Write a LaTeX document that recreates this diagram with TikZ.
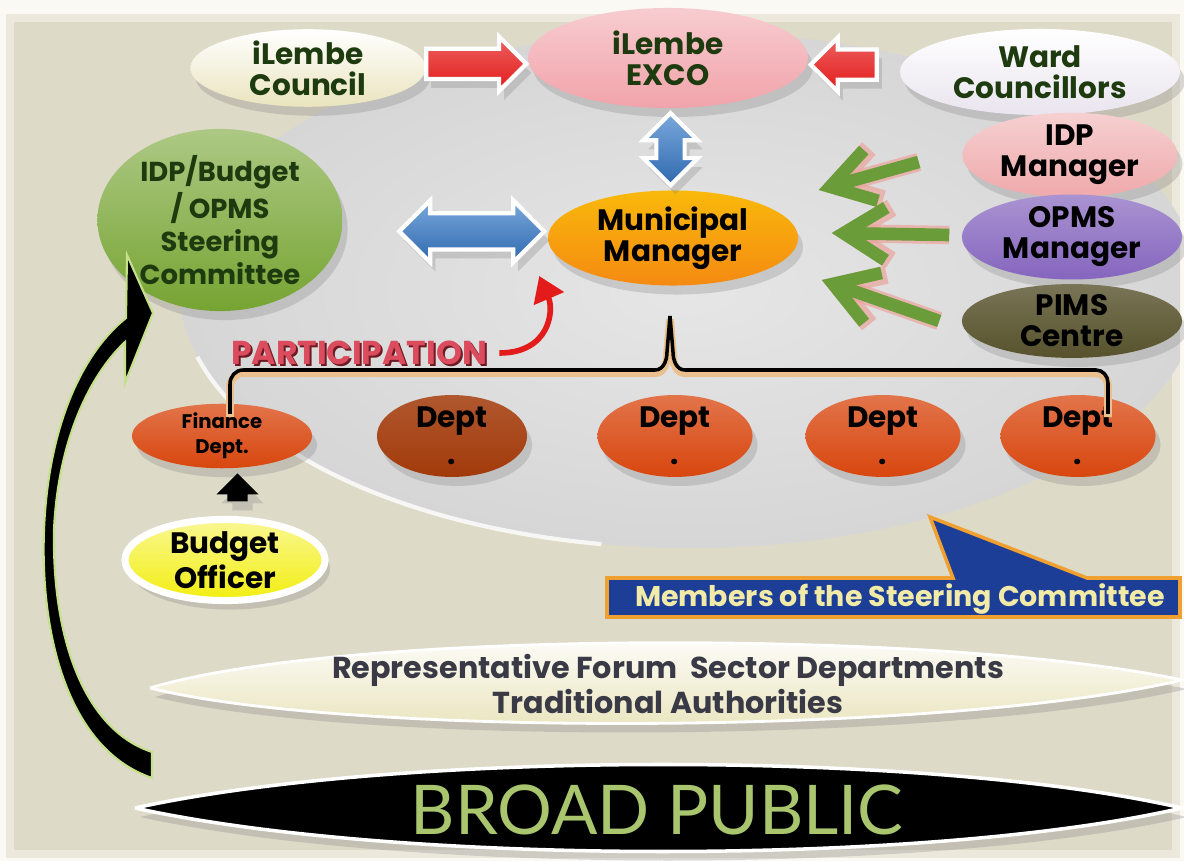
\documentclass[tikz,border=0pt]{standalone}
\usepackage{fontspec}
\setmainfont{Poppins}
\newfontfamily\pubfont{Lato}
\usetikzlibrary{positioning,calc,shapes.geometric,shapes.arrows,shadows,arrows.meta}

\definecolor{outerbg}{HTML}{FAF9F4}
\definecolor{panelbg}{HTML}{DEDAC8}
\definecolor{panelrim}{HTML}{ECE9DC}
\definecolor{mist}{HTML}{D6D6D6}
\definecolor{mistlight}{HTML}{E6E6E6}
\definecolor{leaf}{HTML}{1E3B10}
\definecolor{cream}{HTML}{EAE4BE}
\definecolor{exco}{HTML}{F1A3AA}
\definecolor{ward}{HTML}{E9E4EE}
\definecolor{idpm}{HTML}{EFA9AB}
\definecolor{opms}{HTML}{8565BE}
\definecolor{pims}{HTML}{57522C}
\definecolor{steer}{HTML}{76A432}
\definecolor{mm}{HTML}{F58A12}
\definecolor{fin}{HTML}{D8460E}
\definecolor{deptdark}{HTML}{A23A0A}
\definecolor{budget}{HTML}{F2EE10}
\definecolor{callout}{HTML}{1D3E96}
\definecolor{calloutrim}{HTML}{F0A030}
\definecolor{callouttext}{HTML}{F2EBA8}
\definecolor{forum}{HTML}{E8E2B8}
\definecolor{forumtext}{HTML}{3A3A46}
\definecolor{pubgreen}{HTML}{A9C56E}
\definecolor{redarrow}{HTML}{E41B1B}
\definecolor{bluearrow}{HTML}{2F69AE}
\definecolor{bluelight}{HTML}{7AA8DC}
\definecolor{arrowgreen}{HTML}{6A9C3A}
\definecolor{arrowglow}{HTML}{EBA39B}
\definecolor{partred}{HTML}{DB4C5E}
\definecolor{partdark}{HTML}{6E1A22}
\definecolor{rimtan}{HTML}{E9C08E}
\definecolor{sprout}{HTML}{C5E08A}

\tikzset{
	softshadow/.style={drop shadow={shadow xshift=0.5mm, shadow yshift=-0.9mm, opacity=0.28}},
	bubble/.style={ellipse, inner sep=0pt, align=center, text=leaf, font=\bfseries\fontsize{8.4}{8.8}\selectfont, softshadow},
	dept/.style={bubble, text=black, minimum width=1.5cm, minimum height=0.68cm, font=\bfseries\fontsize{8.4}{10.5}\selectfont},
	block/.style={single arrow, inner sep=0pt, draw=white, line width=1.2pt, single arrow head extend=0.12cm, softshadow},
	twoway/.style={double arrow, inner sep=0pt, draw=white, line width=1.2pt, double arrow head extend=0.13cm, softshadow},
	greenglow/.style={draw=arrowglow, line width=5.2pt, opacity=0.7, -{Straight Barb[length=12pt,width=15pt]}},
	greenarrow/.style={draw=arrowgreen, line width=3.6pt, -{Straight Barb[length=12pt,width=15pt]}},
	partarrow/.style={draw=redarrow, line width=1.6pt, -{Triangle[length=7pt,width=9pt]}},
	bracketrim/.style={draw=rimtan, line width=2.2pt, yshift=-0.9pt},
	bracket/.style={draw=black, line width=1pt}
}

\begin{document}
\begin{tikzpicture}[x=0.01cm, y=-0.01cm]
	\useasboundingbox (0,0) rectangle (1184,861);
	\fill[outerbg] (0,0) rectangle (1184,861);
	\fill[panelbg] (6,14) rectangle (1180,858);
	\draw[panelrim, line width=2.5pt] (10,18) rectangle (1176,854);
	\begin{scope}
		\clip (6,14) rectangle (1180,858);
		\shade[inner color=mistlight, outer color=mist] (690,290) ellipse [x radius=510, y radius=258];
		\draw[white, line width=1.2pt, opacity=0.8] (690,290) ++(165:510 and 258) arc[start angle=165, end angle=100, x radius=510, y radius=258];
	\end{scope}

	\node[bubble, minimum width=2.35cm, minimum height=0.75cm, top color=white, bottom color=cream] (council) at (308,68) {iLembe\\Council};
	\node[bubble, minimum width=2.8cm, minimum height=1cm, top color=exco!55!white, bottom color=exco] (exco) at (668,58) {iLembe\\EXCO};
	\node[bubble, minimum width=2.8cm, minimum height=0.86cm, top color=white, bottom color=ward] (ward) at (1040,72) {Ward\\Councillors};
	\node[bubble, text=black, minimum width=2.15cm, minimum height=0.72cm, top color=idpm!55!white, bottom color=idpm] (idpm) at (1070,155) {IDP\\Manager};
	\node[bubble, text=black, minimum width=2.2cm, minimum height=0.72cm, top color=opms!70!white, bottom color=opms] (opms) at (1072,237) {OPMS\\Manager};
	\node[bubble, text=black, minimum width=2.2cm, minimum height=0.72cm, top color=pims!80!white, bottom color=pims] (pims) at (1072,321) {PIMS\\Centre};
	\node[bubble, minimum width=2.45cm, minimum height=1.45cm, top color=steer!60!white, bottom color=steer, font=\bfseries\fontsize{7.8}{9.3}\selectfont] (steer) at (220,220) {IDP/Budget\\/ OPMS\\Steering\\Committee};
	\node[bubble, text=black, minimum width=2.5cm, minimum height=0.95cm, top color=mm!60!yellow, bottom color=mm] (mm) at (673,238) {Municipal\\Manager};

	\node[dept, minimum width=1.8cm, minimum height=0.64cm, top color=fin!75!white, bottom color=fin, font=\bfseries\fontsize{5.6}{7}\selectfont] (fin) at (222,436) {Finance\\Dept.};
	\node[dept, top color=deptdark!85!white, bottom color=deptdark] (d1) at (452,436) {Dept\\.};
	\foreach \n/\x in {d2/675,d3/883,d4/1078}
		\node[dept, minimum width=1.55cm, top color=fin!75!white, bottom color=fin] (\n) at (\x,436) {Dept\\.};
	\node[bubble, text=black, minimum width=2.0cm, minimum height=0.8cm, draw=white, line width=2pt, top color=budget!45!white, bottom color=budget] (bud) at (225,560) {Budget\\Officer};

	\node[block, top color=redarrow!70!white, bottom color=redarrow, minimum height=1cm] (rarr) at ($(council.east)!0.42!(exco.west)$) {\rule{0pt}{0.26cm}};
	\node[block, top color=redarrow!70!white, bottom color=redarrow, minimum height=0.66cm, rotate=180] (larr) at ($(exco.east)!0.47!(ward.west)$) {\rule{0pt}{0.26cm}};
	\node[twoway, minimum height=0.72cm, rotate=90, top color=bluelight, bottom color=bluearrow] (varr) at ($(exco.south)!0.5!(mm.north)$) {\rule{0pt}{0.24cm}};
	\node[twoway, minimum height=1.45cm, top color=bluelight, bottom color=bluearrow] (harr) at ($(steer.east)!0.63!(mm.west)$) {\rule{0pt}{0.32cm}};
	\node[block, draw=none, fill=black, minimum height=0.28cm, rotate=90, single arrow head extend=0.11cm] (uarr) at ($(bud.north)!0.5!(fin.south)+(14,0)$) {\rule{0pt}{0.16cm}};

	\coordinate (s1) at ($(idpm.west)+(-43,7)$);
	\coordinate (e1) at ($(mm.east)+(20,-48)$);
	\coordinate (s2) at ($(opms.west)+(-12,-2)$);
	\coordinate (e2) at ($(mm.east)+(33,-5)$);
	\coordinate (s3) at ($(pims.west)+(-22,0)$);
	\coordinate (e3) at ($(mm.east)+(23,42)$);
	\foreach \i in {1,2,3}
		\draw[greenglow] (s\i) -- (e\i);
	\foreach \i in {1,2,3}
		\draw[greenarrow] (s\i) -- (e\i);

	\foreach \s in {bracketrim,bracket}
		\draw[\s] (230,414) -- (230,384) to[out=90,in=180] (243,370) -- (655,370) to[out=0,in=-90] (667,352) -- (670,316) -- (673,352) to[out=-90,in=180] (685,370) -- (1096,370) to[out=0,in=90] (1108,383) -- (1108,414);

	\node[font=\bfseries\fontsize{9.4}{9.4}\selectfont, text=partdark] (partshade) at (361,355) {PARTICIPATION};
	\node[font=\bfseries\fontsize{9.4}{9.4}\selectfont, text=partred] (part) at (359,353) {PARTICIPATION};
	\draw[partarrow] (part.east) .. controls +(50,0) and +(15,35) .. ($(mm.west)+(-8,38)$);

	\filldraw[fill=callout, draw=calloutrim, line width=1pt] (607,578) -- (953,578) -- (930,517) -- (1087,578) -- (1180,578) -- (1180,617) -- (607,617) -- cycle;
	\node[font=\bfseries\fontsize{8.1}{8.5}\selectfont, text=callouttext] (members) at (900,599) {Members of the Steering Committee};

	\shade[top color=white, bottom color=forum, draw=white, line width=0.8pt, softshadow] (150,688) .. controls (350,628) and (950,630) .. (1182,680) .. controls (950,735) and (350,738) .. (150,688);
	\node[font=\bfseries\fontsize{8.6}{10}\selectfont, text=forumtext, align=center] (forum) at (668,684) {Representative Forum\ \ Sector Departments\\Traditional Authorities};

	\filldraw[fill=black, draw=white, line width=1pt, softshadow] (135,808) .. controls (400,750) and (930,750) .. (1182,808) .. controls (930,866) and (400,866) .. (135,808);
	\node[font=\pubfont\fontsize{19.5}{20}\selectfont, text=pubgreen] (pub) at (657,810) {BROAD PUBLIC};

	\filldraw[fill=black, draw=sprout, line width=0.6pt] (152,778) .. controls (70,750) and (40,640) .. (44,530) .. controls (48,430) and (80,355) .. (126,318) -- (127,255) -- (153,313) -- (125,383) -- (125,342) .. controls (90,375) and (58,440) .. (54,530) .. controls (52,640) and (85,730) .. (152,752) -- cycle;
\end{tikzpicture}
\end{document}
